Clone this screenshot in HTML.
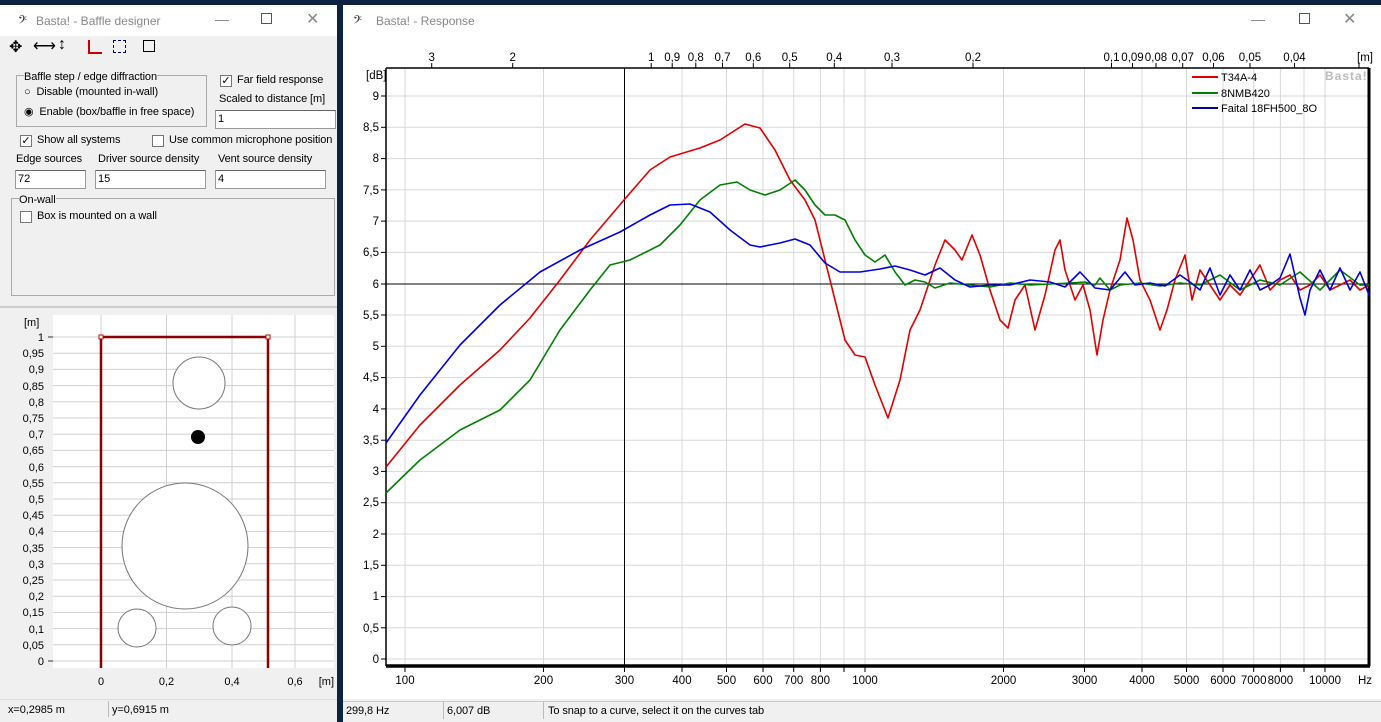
<!DOCTYPE html>
<html><head><meta charset="utf-8"><style>
*{margin:0;padding:0;box-sizing:border-box}
body{width:1381px;height:722px;overflow:hidden;background:#0d2240;font-family:"Liberation Sans",sans-serif;font-size:12px;color:#000;position:relative}
.abs{position:absolute}
.win{position:absolute;background:#f0f0f0}
.title{position:absolute;left:0;right:0;top:0;height:36px;background:#fff;color:#888;font-size:12px}
.lbl{position:absolute;white-space:nowrap;font-size:11px;letter-spacing:-0.1px}
.cb{position:absolute;width:12px;height:12px;border:1px solid #777;background:#fff;font-size:11px;line-height:10px;text-align:center}
.inp{position:absolute;height:19px;background:#fff;border:1px solid #999;border-top-color:#666;font-size:11px;padding-left:2px;line-height:17px}
</style></head><body>
<div class="win" style="left:0;top:5px;width:337px;height:717px">
 <div class="title"><span class="abs" style="left:18px;top:8px;color:#333;font-size:14px">𝄢</span><span class="abs" style="left:36px;top:9px">Basta! - Baffle designer</span>
 <span class="abs" style="left:215px;top:6px;font-size:14px">—</span><span class="abs" style="left:261px;top:8px;width:11px;height:11px;border:1px solid #555"></span><span class="abs" style="left:306px;top:4px;font-size:16px">✕</span></div>
 <div class="abs" style="left:0;top:31px;width:337px;height:22px;background:#f0f0f0;font-size:16px">
  <span class="abs" style="left:9px;top:1px">✥</span><span class="abs" style="left:33px;top:0">⟷</span><span class="abs" style="left:58px;top:0">↕</span>
  <span class="abs" style="left:88px;top:4px;width:2px;height:14px;background:#c00"></span><span class="abs" style="left:88px;top:16px;width:14px;height:2px;background:#c00"></span>
  <span class="abs" style="left:113px;top:4px;width:13px;height:13px;border:1px dashed #006"></span>
  <span class="abs" style="left:143px;top:4px;width:12px;height:12px;border:1px solid #000"></span></div>
 <div class="abs" style="left:16px;top:70px;width:191px;height:52px;border:1px solid #aaa"></div>
 <span class="lbl" style="left:24px;top:66px;background:#f0f0f0">Baffle step / edge diffraction</span>
 <span class="lbl" style="left:24px;top:81px">○&nbsp; Disable (mounted in-wall)</span>
 <span class="lbl" style="left:24px;top:100px">◉&nbsp; Enable (box/baffle in free space)</span>
 <div class="cb" style="left:220px;top:70px">✓</div><span class="lbl" style="left:237px;top:69px">Far field response</span>
 <span class="lbl" style="left:219px;top:88px">Scaled to distance [m]</span>
 <div class="inp" style="left:215px;top:105px;width:121px">1</div>
 <div class="cb" style="left:20px;top:130px">✓</div><span class="lbl" style="left:37px;top:129px">Show all systems</span>
 <div class="cb" style="left:152px;top:130px"></div><span class="lbl" style="left:169px;top:129px">Use common microphone position</span>
 <span class="lbl" style="left:16px;top:148px">Edge sources</span><span class="lbl" style="left:98px;top:148px">Driver source density</span><span class="lbl" style="left:218px;top:148px">Vent source density</span>
 <div class="inp" style="left:15px;top:165px;width:71px">72</div><div class="inp" style="left:95px;top:165px;width:111px">15</div><div class="inp" style="left:215px;top:165px;width:111px">4</div>
 <div class="abs" style="left:11px;top:193px;width:324px;height:98px;border:1px solid #aaa"></div>
 <span class="lbl" style="left:19px;top:189px;background:#f0f0f0">On-wall</span>
 <div class="cb" style="left:20px;top:206px"></div><span class="lbl" style="left:37px;top:205px">Box is mounted on a wall</span>
 <div class="abs" style="left:0;top:301px;width:337px;height:2px;background:#ccc"></div>
 <div class="abs" style="left:0;top:694px;width:337px;height:23px;background:#f0f0f0;border-top:1px solid #ddd"></div>
 <span class="lbl" style="left:8px;top:699px;font-size:11px">x=0,2985 m</span>
 <div class="abs" style="left:108px;top:696px;width:1px;height:16px;background:#bbb"></div>
 <span class="lbl" style="left:112px;top:699px;font-size:11px">y=0,6915 m</span>
</div>
<svg class="abs" style="left:0;top:0" width="340" height="722">
 <rect x="53" y="315" width="281" height="353" fill="#fff"/>
 <g stroke="#d0d0d0" stroke-width="1">
  <line x1="53" x2="334" y1="337" y2="337"/><line x1="53" x2="334" y1="353.2" y2="353.2"/><line x1="53" x2="334" y1="369.4" y2="369.4"/><line x1="53" x2="334" y1="385.6" y2="385.6"/><line x1="53" x2="334" y1="401.8" y2="401.8"/><line x1="53" x2="334" y1="418" y2="418"/><line x1="53" x2="334" y1="434.2" y2="434.2"/><line x1="53" x2="334" y1="450.4" y2="450.4"/><line x1="53" x2="334" y1="466.6" y2="466.6"/><line x1="53" x2="334" y1="482.8" y2="482.8"/><line x1="53" x2="334" y1="499" y2="499"/><line x1="53" x2="334" y1="515.2" y2="515.2"/><line x1="53" x2="334" y1="531.4" y2="531.4"/><line x1="53" x2="334" y1="547.6" y2="547.6"/><line x1="53" x2="334" y1="563.8" y2="563.8"/><line x1="53" x2="334" y1="580" y2="580"/><line x1="53" x2="334" y1="596.2" y2="596.2"/><line x1="53" x2="334" y1="612.4" y2="612.4"/><line x1="53" x2="334" y1="628.6" y2="628.6"/><line x1="53" x2="334" y1="644.8" y2="644.8"/><line x1="53" x2="334" y1="661" y2="661"/>
  <line x1="101" x2="101" y1="315" y2="668"/><line x1="166.5" x2="166.5" y1="315" y2="668"/><line x1="232" x2="232" y1="315" y2="668"/><line x1="295" x2="295" y1="315" y2="668"/>
 </g>
 <g font-family="Liberation Sans" font-size="11" text-anchor="end">
  <text x="24" y="326" text-anchor="start">[m]</text>
  <text x="44" y="341">1</text><text x="44" y="357">0,95</text><text x="44" y="373">0,9</text><text x="44" y="390">0,85</text><text x="44" y="406">0,8</text><text x="44" y="422">0,75</text><text x="44" y="438">0,7</text><text x="44" y="454">0,65</text><text x="44" y="471">0,6</text><text x="44" y="487">0,55</text><text x="44" y="503">0,5</text><text x="44" y="519">0,45</text><text x="44" y="535">0,4</text><text x="44" y="552">0,35</text><text x="44" y="568">0,3</text><text x="44" y="584">0,25</text><text x="44" y="600">0,2</text><text x="44" y="616">0,15</text><text x="44" y="633">0,1</text><text x="44" y="649">0,05</text><text x="44" y="665">0</text>
  <g text-anchor="middle"><text x="101" y="685">0</text><text x="166.5" y="685">0,2</text><text x="232" y="685">0,4</text><text x="295" y="685">0,6</text></g>
  <text x="334" y="685">[m]</text>
 </g>
 <g stroke="#333"><line x1="48" x2="53" y1="337" y2="337"/><line x1="48" x2="53" y1="661" y2="661"/></g>
 <g fill="#fff" stroke="#777" stroke-width="1">
  <circle cx="199" cy="383" r="26"/><circle cx="185" cy="546" r="63"/><circle cx="137" cy="628" r="19"/><circle cx="232" cy="626" r="19"/>
 </g>
 <circle cx="198" cy="437" r="7" fill="#000"/>
 <g stroke="#8b0000" stroke-width="2.5" fill="none"><polyline points="101,668 101,337 268,337 268,668"/></g>
 <rect x="99" y="335" width="4" height="4" fill="#fff" stroke="#c00"/><rect x="266" y="335" width="4" height="4" fill="#fff" stroke="#c00"/>
</svg>
<div class="win" style="left:343px;top:5px;width:1038px;height:717px">
 <div class="title"><span class="abs" style="left:10px;top:8px;color:#333;font-size:14px">𝄢</span><span class="abs" style="left:33px;top:9px">Basta! - Response</span>
 <span class="abs" style="left:908px;top:6px;font-size:14px">—</span><span class="abs" style="left:956px;top:8px;width:11px;height:11px;border:1px solid #555"></span><span class="abs" style="left:1000px;top:4px;font-size:16px">✕</span></div>
 <div class="abs" style="left:0;top:36px;width:1038px;height:658px;background:#fff"></div>
 <div class="abs" style="left:0;top:696px;width:1038px;height:21px;background:#f0f0f0;border-top:1px solid #ccc"></div>
 <span class="lbl" style="left:3px;top:700px;font-size:11px">299,8 Hz</span><div class="abs" style="left:100px;top:697px;width:1px;height:17px;background:#bbb"></div>
 <span class="lbl" style="left:104px;top:700px;font-size:11px">6,007 dB</span><div class="abs" style="left:200px;top:697px;width:1px;height:17px;background:#bbb"></div>
 <span class="lbl" style="left:205px;top:700px;font-size:11px">To snap to a curve, select it on the curves tab</span>
</div>
<svg class="abs" style="left:0;top:0" width="1381" height="722">
 <g stroke="#d8d8d8" stroke-width="1">
  <line x1="386" x2="1369" y1="96" y2="96"/><line x1="386" x2="1369" y1="127.3" y2="127.3"/><line x1="386" x2="1369" y1="158.6" y2="158.6"/><line x1="386" x2="1369" y1="189.9" y2="189.9"/><line x1="386" x2="1369" y1="221.1" y2="221.1"/><line x1="386" x2="1369" y1="252.4" y2="252.4"/><line x1="386" x2="1369" y1="315" y2="315"/><line x1="386" x2="1369" y1="346.3" y2="346.3"/><line x1="386" x2="1369" y1="377.6" y2="377.6"/><line x1="386" x2="1369" y1="408.9" y2="408.9"/><line x1="386" x2="1369" y1="440.2" y2="440.2"/><line x1="386" x2="1369" y1="471.4" y2="471.4"/><line x1="386" x2="1369" y1="502.7" y2="502.7"/><line x1="386" x2="1369" y1="534" y2="534"/><line x1="386" x2="1369" y1="565.3" y2="565.3"/><line x1="386" x2="1369" y1="596.6" y2="596.6"/><line x1="386" x2="1369" y1="627.8" y2="627.8"/><line x1="386" x2="1369" y1="659" y2="659"/>
  <line x1="405" x2="405" y1="68" y2="665"/><line x1="543.5" x2="543.5" y1="68" y2="665"/><line x1="682" x2="682" y1="68" y2="665"/><line x1="726.5" x2="726.5" y1="68" y2="665"/><line x1="763" x2="763" y1="68" y2="665"/><line x1="793.7" x2="793.7" y1="68" y2="665"/><line x1="820.4" x2="820.4" y1="68" y2="665"/><line x1="844" x2="844" y1="68" y2="665"/><line x1="865" x2="865" y1="68" y2="665"/><line x1="1003.5" x2="1003.5" y1="68" y2="665"/><line x1="1084.5" x2="1084.5" y1="68" y2="665"/><line x1="1142" x2="1142" y1="68" y2="665"/><line x1="1186.5" x2="1186.5" y1="68" y2="665"/><line x1="1223" x2="1223" y1="68" y2="665"/><line x1="1253.7" x2="1253.7" y1="68" y2="665"/><line x1="1280.4" x2="1280.4" y1="68" y2="665"/><line x1="1304" x2="1304" y1="68" y2="665"/><line x1="1325" x2="1325" y1="68" y2="665"/>
 </g>
 <line x1="624.5" x2="624.5" y1="68" y2="665" stroke="#000"/>
 <line x1="386" x2="1369" y1="284" y2="284" stroke="#000"/>
 <g stroke="#000" fill="none"><line x1="386" x2="1369" y1="68" y2="68" stroke-width="1.5"/><line x1="386" x2="386" y1="68" y2="666" stroke-width="1.5"/><line x1="386" x2="1370" y1="666" y2="666" stroke-width="3.5"/><line x1="1369" x2="1369" y1="68" y2="666" stroke-width="3"/></g>
 <g font-family="Liberation Sans" font-size="11.5" text-anchor="end">
  <text x="366" y="79" text-anchor="start">[dB]</text>
  <text x="379" y="100">9</text><text x="379" y="131">8,5</text><text x="379" y="162">8</text><text x="379" y="194">7,5</text><text x="379" y="225">7</text><text x="379" y="256">6,5</text><text x="379" y="288">6</text><text x="379" y="319">5,5</text><text x="379" y="350">5</text><text x="379" y="381">4,5</text><text x="379" y="413">4</text><text x="379" y="444">3,5</text><text x="379" y="475">3</text><text x="379" y="506">2,5</text><text x="379" y="538">2</text><text x="379" y="569">1,5</text><text x="379" y="600">1</text><text x="379" y="632">0,5</text><text x="379" y="663">0</text>
 </g>
 <g stroke="#000"><line x1="381" x2="386" y1="96" y2="96"/><line x1="381" x2="386" y1="127.3" y2="127.3"/><line x1="381" x2="386" y1="158.6" y2="158.6"/><line x1="381" x2="386" y1="189.9" y2="189.9"/><line x1="381" x2="386" y1="221.1" y2="221.1"/><line x1="381" x2="386" y1="252.4" y2="252.4"/><line x1="381" x2="386" y1="284" y2="284"/><line x1="381" x2="386" y1="315" y2="315"/><line x1="381" x2="386" y1="346.3" y2="346.3"/><line x1="381" x2="386" y1="377.6" y2="377.6"/><line x1="381" x2="386" y1="408.9" y2="408.9"/><line x1="381" x2="386" y1="440.2" y2="440.2"/><line x1="381" x2="386" y1="471.4" y2="471.4"/><line x1="381" x2="386" y1="502.7" y2="502.7"/><line x1="381" x2="386" y1="534" y2="534"/><line x1="381" x2="386" y1="565.3" y2="565.3"/><line x1="381" x2="386" y1="596.6" y2="596.6"/><line x1="381" x2="386" y1="627.8" y2="627.8"/><line x1="381" x2="386" y1="659" y2="659"/>
 <g stroke-width="1"><line x1="405" x2="405" y1="667" y2="672"/><line x1="543.5" x2="543.5" y1="667" y2="672"/><line x1="624.5" x2="624.5" y1="667" y2="672"/><line x1="682" x2="682" y1="667" y2="672"/><line x1="726.5" x2="726.5" y1="667" y2="672"/><line x1="763" x2="763" y1="667" y2="672"/><line x1="793.7" x2="793.7" y1="667" y2="672"/><line x1="820.4" x2="820.4" y1="667" y2="672"/><line x1="844" x2="844" y1="667" y2="672"/><line x1="865" x2="865" y1="667" y2="672"/><line x1="1003.5" x2="1003.5" y1="667" y2="672"/><line x1="1084.5" x2="1084.5" y1="667" y2="672"/><line x1="1142" x2="1142" y1="667" y2="672"/><line x1="1186.5" x2="1186.5" y1="667" y2="672"/><line x1="1223" x2="1223" y1="667" y2="672"/><line x1="1253.7" x2="1253.7" y1="667" y2="672"/><line x1="1280.4" x2="1280.4" y1="667" y2="672"/><line x1="1304" x2="1304" y1="667" y2="672"/><line x1="1325" x2="1325" y1="667" y2="672"/>
 <line x1="431.7" x2="431.7" y1="63" y2="68"/><line x1="512.7" x2="512.7" y1="63" y2="68"/><line x1="651.2" x2="651.2" y1="63" y2="68"/><line x1="672.2" x2="672.2" y1="63" y2="68"/><line x1="695.8" x2="695.8" y1="63" y2="68"/><line x1="722.5" x2="722.5" y1="63" y2="68"/><line x1="753.3" x2="753.3" y1="63" y2="68"/><line x1="789.7" x2="789.7" y1="63" y2="68"/><line x1="834.3" x2="834.3" y1="63" y2="68"/><line x1="892" x2="892" y1="63" y2="68"/><line x1="973" x2="973" y1="63" y2="68"/><line x1="1111.5" x2="1111.5" y1="63" y2="68"/><line x1="1132.5" x2="1132.5" y1="63" y2="68"/><line x1="1156" x2="1156" y1="63" y2="68"/><line x1="1182.7" x2="1182.7" y1="63" y2="68"/><line x1="1213.5" x2="1213.5" y1="63" y2="68"/><line x1="1250" x2="1250" y1="63" y2="68"/><line x1="1294.5" x2="1294.5" y1="63" y2="68"/><line x1="1359" x2="1359" y1="63" y2="68"/></g></g>
 <g font-family="Liberation Sans" font-size="11.5" text-anchor="middle">
  <text x="405" y="684">100</text><text x="543.5" y="684">200</text><text x="624.5" y="684">300</text><text x="682" y="684">400</text><text x="726.5" y="684">500</text><text x="763" y="684">600</text><text x="793.7" y="684">700</text><text x="820.4" y="684">800</text><text x="865" y="684">1000</text><text x="1003.5" y="684">2000</text><text x="1084.5" y="684">3000</text><text x="1142" y="684">4000</text><text x="1186.5" y="684">5000</text><text x="1223" y="684">6000</text><text x="1253.7" y="684">7000</text><text x="1280.4" y="684">8000</text><text x="1325" y="684">10000</text><text x="1365" y="684">Hz</text>
  <text x="431.7" y="61">3</text><text x="512.7" y="61">2</text><text x="651.2" y="61">1</text><text x="672.2" y="61">0,9</text><text x="695.8" y="61">0,8</text><text x="722.5" y="61">0,7</text><text x="753.3" y="61">0,6</text><text x="789.7" y="61">0,5</text><text x="834.3" y="61">0,4</text><text x="892" y="61">0,3</text><text x="973" y="61">0,2</text><text x="1111.5" y="61">0,1</text><text x="1132.5" y="61">0,09</text><text x="1156" y="61">0,08</text><text x="1182.7" y="61">0,07</text><text x="1213.5" y="61">0,06</text><text x="1250" y="61">0,05</text><text x="1294.5" y="61">0,04</text><text x="1365" y="61">[m]</text>
 </g>
 <g fill="none" stroke-width="1.6" stroke-linejoin="round">
  <polyline stroke="#e00000" points="386,467 420,425 460,385 500,350 530,318 560,280 590,240 624,200 650,170 670,157 700,148 720,140 745,124 760,128 775,150 790,180 805,200 815,220 825,260 835,300 845,340 855,355 865,357 875,385 888,418 900,380 910,330 920,310 935,265 945,240 955,250 962,260 972,235 980,255 990,290 1000,320 1008,328 1015,300 1025,285 1035,330 1045,295 1055,250 1060,240 1065,270 1075,300 1083,285 1090,310 1097,355 1103,320 1110,290 1120,260 1127,218 1133,240 1140,280 1150,300 1160,330 1167,310 1175,280 1185,255 1192,300 1200,270 1210,285 1220,300 1230,285 1240,295 1250,280 1260,265 1270,290 1280,280 1290,275 1300,290 1310,285 1320,275 1330,290 1340,285 1350,280 1360,290 1369,285"/>
  <polyline stroke="#008000" points="386,493 420,460 460,430 500,410 530,380 560,330 590,290 610,265 630,260 660,245 680,225 700,200 720,185 737,182 750,190 765,195 780,190 795,180 805,190 815,205 825,215 835,215 845,220 855,240 865,255 875,262 885,255 895,272 905,285 915,280 925,282 935,288 950,283 970,285 990,287 1010,283 1030,285 1050,284 1070,283 1085,282 1095,285 1100,278 1110,290 1120,285 1140,283 1160,286 1180,283 1200,285 1220,275 1240,290 1260,280 1280,285 1300,272 1320,290 1340,270 1360,285 1369,285"/>
  <polyline stroke="#0000e0" points="386,443 420,395 460,345 500,305 540,272 580,250 620,232 650,215 670,205 690,204 710,212 730,230 750,245 760,247 780,243 795,239 810,245 825,263 840,272 860,272 880,269 895,266 910,270 925,275 940,268 955,280 970,287 990,285 1010,285 1030,280 1050,282 1065,287 1080,272 1095,288 1110,290 1125,272 1135,285 1150,283 1165,286 1180,275 1190,282 1200,290 1210,268 1220,295 1230,275 1240,290 1250,270 1260,290 1270,285 1280,278 1290,254 1300,298 1305,315 1310,290 1320,270 1330,290 1340,268 1350,290 1360,272 1369,295"/>
 </g>
 <g font-family="Liberation Sans" font-size="11">
  <line x1="1192" x2="1218" y1="77" y2="77" stroke="#e00000" stroke-width="2"/><text x="1221" y="81">T34A-4</text>
  <line x1="1192" x2="1218" y1="93" y2="93" stroke="#008000" stroke-width="2"/><text x="1221" y="97">8NMB420</text>
  <line x1="1192" x2="1218" y1="108" y2="108" stroke="#0000a0" stroke-width="2"/><text x="1221" y="112">Faital 18FH500_8O</text>
  <text x="1325" y="80" fill="#bbb" font-size="12" font-weight="bold" letter-spacing="1">Basta!</text>
 </g>
</svg>
</body></html>
